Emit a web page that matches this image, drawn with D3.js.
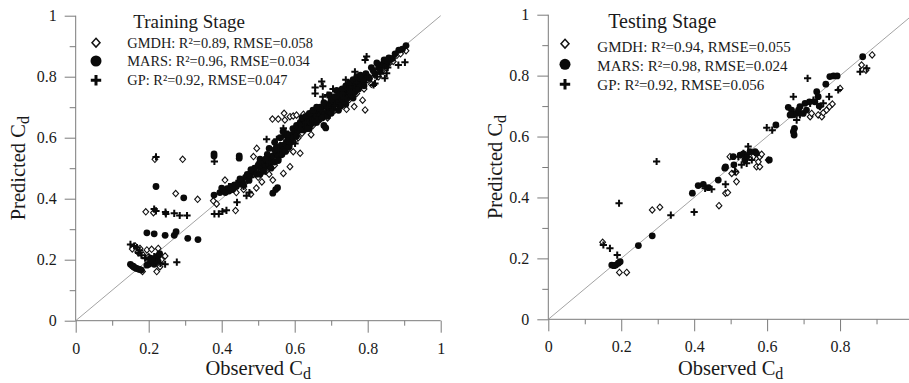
<!DOCTYPE html>
<html><head><meta charset="utf-8">
<script src="https://cdn.jsdelivr.net/npm/d3@7"></script>
<style>
body{margin:0;background:#fff}
text{font-family:"Liberation Serif","Times New Roman",serif;fill:#1a1a1a}
</style>
</head><body><svg id="chart" width="909" height="383"></svg>
<script>
// ---------- DATA ----------
const trainGMDH = [
[0.163,0.245],[0.176,0.237],[0.195,0.232],[0.208,0.234],[0.226,0.237],[0.245,0.212],[0.222,0.161],[0.183,0.161],[0.231,0.177],[0.170,0.225],[0.185,0.215],[0.200,0.210],[0.235,0.200],[0.155,0.235],
[0.217,0.529],[0.293,0.529],[0.274,0.417],[0.334,0.398],[0.192,0.357],[0.213,0.354],[0.438,0.361],[0.377,0.393],[0.386,0.383],[0.409,0.461],
[0.539,0.661],[0.555,0.661],[0.571,0.680],[0.573,0.658],[0.587,0.669],[0.596,0.671],[0.605,0.674],[0.624,0.677],[0.496,0.565],[0.487,0.538],
[0.587,0.505],[0.569,0.483],[0.540,0.461],[0.596,0.554],[0.615,0.549],[0.793,0.691],[0.786,0.723],[0.763,0.702],[0.742,0.693],[0.905,0.885],
[0.420,0.430],[0.440,0.420],[0.460,0.430],[0.470,0.460],[0.480,0.415],[0.495,0.435],[0.500,0.470],[0.510,0.455],[0.520,0.490],[0.530,0.480],
[0.545,0.510],[0.555,0.530],[0.565,0.545],[0.580,0.560],[0.600,0.590],[0.610,0.600],[0.620,0.615],[0.630,0.640],[0.640,0.650],[0.650,0.640],
[0.660,0.665],[0.670,0.660],[0.680,0.690],[0.690,0.675],[0.700,0.700],[0.710,0.690],[0.720,0.720],[0.730,0.705],[0.740,0.740],[0.750,0.725],
[0.760,0.760],[0.770,0.745],[0.780,0.775],[0.790,0.760],[0.800,0.790],[0.810,0.775],[0.820,0.805],[0.830,0.800],[0.840,0.820],[0.850,0.830],
[0.860,0.845],[0.870,0.850],[0.880,0.870],[0.890,0.875],[0.560,0.575],[0.575,0.595],[0.645,0.610],[0.690,0.665]
];
const trainMARS = [
[0.150,0.185],[0.155,0.180],[0.160,0.175],[0.165,0.172],[0.170,0.170],[0.175,0.168],[0.180,0.166],[0.158,0.178],
[0.195,0.182],[0.200,0.185],[0.205,0.190],[0.210,0.195],[0.215,0.200],[0.220,0.205],[0.225,0.212],[0.230,0.220],[0.215,0.185],[0.225,0.195],[0.205,0.205],
[0.195,0.288],[0.215,0.285],[0.245,0.280],[0.270,0.280],[0.275,0.292],[0.307,0.270],[0.335,0.266],[0.220,0.440],[0.296,0.403],[0.379,0.412],
[0.379,0.547],[0.379,0.540],[0.448,0.540],[0.448,0.533],[0.540,0.418],[0.548,0.430],[0.553,0.436],
[0.395,0.420],[0.405,0.428],[0.415,0.432],[0.425,0.440],[0.435,0.445],[0.445,0.448],[0.455,0.455],[0.465,0.470],[0.470,0.480],[0.478,0.475],
[0.485,0.490],[0.490,0.500],[0.500,0.510],[0.420,0.425],[0.440,0.440],
[0.400,0.435],[0.410,0.420],[0.430,0.430],[0.450,0.465],[0.460,0.445],[0.475,0.460],[0.480,0.495],[0.495,0.480],
[0.505,0.480],[0.510,0.500],[0.515,0.515],[0.520,0.505],[0.525,0.525],[0.530,0.510],[0.535,0.530],[0.540,0.540],[0.545,0.520],[0.550,0.550],
[0.555,0.540],[0.560,0.560],[0.565,0.575],[0.570,0.560],[0.575,0.580],[0.580,0.590],[0.585,0.600],[0.590,0.610],[0.595,0.630],[0.568,0.620],
[0.573,0.609],[0.560,0.600],[0.545,0.585],[0.530,0.565],
[0.505,0.530],[0.515,0.490],[0.525,0.545],[0.535,0.500],[0.545,0.560],[0.555,0.525],[0.565,0.545],[0.575,0.555],[0.585,0.570],[0.590,0.585],
[0.595,0.600],[0.580,0.610],[0.550,0.570],[0.520,0.530],
[0.600,0.620],[0.605,0.640],[0.610,0.630],[0.615,0.650],[0.620,0.640],[0.625,0.660],[0.630,0.645],[0.635,0.665],[0.640,0.655],[0.645,0.670],
[0.650,0.660],[0.655,0.680],[0.660,0.670],[0.665,0.690],[0.670,0.675],[0.675,0.700],[0.680,0.680],[0.685,0.705],[0.690,0.690],[0.695,0.710],
[0.680,0.640],[0.685,0.632],[0.660,0.650],[0.640,0.630],[0.625,0.625],
[0.605,0.605],[0.615,0.625],[0.620,0.665],[0.630,0.670],[0.640,0.680],[0.650,0.690],[0.655,0.650],[0.665,0.660],[0.670,0.700],[0.675,0.665],
[0.680,0.715],[0.690,0.670],[0.695,0.685],[0.660,0.700],[0.645,0.645],[0.635,0.630],
[0.700,0.700],[0.705,0.720],[0.710,0.710],[0.715,0.730],[0.720,0.715],[0.725,0.740],[0.730,0.725],[0.735,0.750],[0.740,0.735],[0.745,0.760],
[0.750,0.745],[0.755,0.770],[0.760,0.755],[0.765,0.780],[0.770,0.765],[0.775,0.790],[0.780,0.775],[0.785,0.800],[0.790,0.785],[0.720,0.690],
[0.740,0.710],[0.760,0.730],[0.700,0.680],[0.715,0.755],[0.695,0.740],
[0.700,0.725],[0.705,0.695],[0.710,0.735],[0.720,0.750],[0.725,0.705],[0.730,0.760],[0.735,0.720],[0.740,0.770],[0.745,0.730],[0.750,0.780],
[0.755,0.740],[0.760,0.790],[0.765,0.750],[0.770,0.800],[0.775,0.760],[0.780,0.805],[0.790,0.770],[0.795,0.810],[0.750,0.760],[0.730,0.740],
[0.800,0.800],[0.810,0.830],[0.820,0.810],[0.830,0.830],[0.840,0.840],[0.850,0.835],[0.858,0.862],[0.868,0.860],[0.885,0.887],[0.905,0.902],[0.815,0.820],
[0.805,0.795],[0.825,0.845],[0.835,0.820],[0.845,0.855],[0.855,0.850],[0.875,0.875],[0.895,0.890]
];
const trainGP = [
[0.150,0.250],[0.160,0.245],[0.168,0.240],[0.172,0.222],[0.180,0.215],[0.190,0.205],[0.200,0.200],[0.210,0.196],[0.222,0.192],[0.232,0.188],
[0.245,0.185],[0.277,0.192],[0.175,0.230],[0.215,0.210],
[0.215,0.366],[0.220,0.360],[0.246,0.356],[0.247,0.350],[0.270,0.352],[0.285,0.345],[0.305,0.345],[0.220,0.537],[0.380,0.522],[0.380,0.350],
[0.392,0.350],[0.402,0.358],[0.413,0.362],[0.442,0.388],[0.468,0.410],[0.476,0.420],
[0.420,0.440],[0.440,0.450],[0.460,0.440],[0.480,0.470],[0.500,0.490],[0.505,0.520],[0.523,0.595],[0.530,0.520],[0.551,0.595],[0.555,0.560],
[0.569,0.631],[0.575,0.620],[0.580,0.590],[0.601,0.581],[0.610,0.620],[0.630,0.650],[0.650,0.655],[0.656,0.765],[0.656,0.745],[0.677,0.769],
[0.677,0.734],[0.670,0.690],[0.690,0.700],[0.700,0.720],[0.710,0.705],[0.720,0.740],[0.735,0.730],[0.745,0.760],[0.755,0.750],[0.765,0.816],
[0.770,0.780],[0.780,0.770],[0.793,0.855],[0.797,0.866],[0.800,0.800],[0.816,0.773],[0.825,0.800],[0.835,0.810],[0.847,0.795],[0.855,0.830],
[0.884,0.838],[0.902,0.847],[0.860,0.850],[0.740,0.790],[0.705,0.760],[0.690,0.740],[0.674,0.784],[0.852,0.811],[0.820,0.778]
];
const testGMDH = [
[0.149,0.253],[0.195,0.154],[0.215,0.154],[0.285,0.359],[0.306,0.368],[0.468,0.373],[0.486,0.414],[0.492,0.416],[0.498,0.534],
[0.503,0.479],[0.515,0.483],[0.516,0.452],[0.571,0.501],[0.580,0.501],[0.576,0.517],[0.580,0.534],[0.585,0.542],[0.562,0.534],[0.603,0.523],
[0.718,0.665],[0.722,0.676],[0.740,0.671],[0.750,0.665],[0.754,0.678],[0.763,0.687],[0.771,0.698],[0.779,0.707],[0.800,0.758],
[0.859,0.835],[0.888,0.868],[0.871,0.818]
];
const testMARS = [
[0.174,0.178],[0.180,0.176],[0.185,0.178],[0.192,0.184],[0.197,0.189],[0.247,0.242],[0.285,0.274],[0.395,0.414],[0.411,0.439],[0.425,0.443],
[0.439,0.432],[0.466,0.457],[0.484,0.496],[0.486,0.500],[0.507,0.534],[0.509,0.507],[0.526,0.539],[0.535,0.543],[0.544,0.534],[0.553,0.550],
[0.567,0.550],[0.571,0.545],[0.539,0.523],[0.606,0.523],[0.624,0.638],
[0.658,0.696],[0.667,0.687],[0.672,0.671],[0.672,0.616],[0.674,0.605],[0.675,0.627],[0.681,0.676],[0.686,0.687],[0.690,0.698],[0.699,0.676],
[0.708,0.687],[0.704,0.709],[0.716,0.714],[0.663,0.671],[0.731,0.714],[0.736,0.747],[0.740,0.731],[0.743,0.700],
[0.761,0.772],[0.772,0.797],[0.782,0.799],[0.792,0.799],[0.862,0.862]
];
const testGP = [
[0.151,0.244],[0.169,0.233],[0.189,0.211],[0.194,0.381],[0.297,0.518],[0.336,0.342],[0.400,0.352],[0.430,0.430],[0.448,0.427],[0.486,0.443],
[0.530,0.507],[0.544,0.512],[0.548,0.567],[0.535,0.545],[0.558,0.523],[0.512,0.485],[0.521,0.534],[0.599,0.629],[0.614,0.621],
[0.672,0.731],[0.681,0.654],[0.690,0.671],[0.718,0.709],[0.727,0.720],[0.745,0.698],[0.754,0.709],[0.770,0.731],[0.711,0.791],[0.795,0.753],
[0.855,0.813],[0.873,0.824]
];
const trainLegend = ["GMDH: R\u00B2=0.89, RMSE=0.058","MARS: R\u00B2=0.96, RMSE=0.034","GP: R\u00B2=0.92, RMSE=0.047"];
const testLegend  = ["GMDH: R\u00B2=0.94, RMSE=0.055","MARS: R\u00B2=0.98, RMSE=0.024","GP: R\u00B2=0.92, RMSE=0.056"];
const majorTicks = [0,0.2,0.4,0.6,0.8,1];
const majorLabels = ["0","0.2","0.4","0.6","0.8","1"];
const minorTicks = [0.1,0.3,0.5,0.7,0.9];

// ---------- LAYOUT ----------
const svg = d3.select("#chart");
svg.append("rect").attr("width",909).attr("height",383).attr("fill","#fff");
const AX = "#7a7a7a";
const SERIF = '"Liberation Serif","Times New Roman",serif';

const panels = [
 {title:"Training Stage", legend:trainLegend, data:[trainGMDH,trainMARS,trainGP],
  x0:75.7,x1:440.7,y0:320.7,y1:15.7, xMaj:majorTicks, xMin:minorTicks,
  leg:{sx:96, sy:[42.7,61,80.3], tx:127.3, ty:[47.5,66,85], titleX:133.3, titleY:28.3, titleSize:19, size:14.4},
  yTitleX:25, xTitleY:375},
 {title:"Testing Stage", legend:testLegend, data:[testGMDH,testMARS,testGP],
  x0:548.3,x1:913,y0:319.3,y1:14.7, xMaj:majorTicks.slice(0,5), xMin:minorTicks,
  leg:{sx:565, sy:[43.7,64.3,84.3], tx:597.3, ty:[51.5,70.7,90], titleX:608.3, titleY:28.3, titleSize:20, size:15},
  yTitleX:502, xTitleY:375}
];

const sym = {
 diamond:(s)=>`M0,${-s*1.1}L${s},0L0,${s*1.1}L${-s},0Z`,
 plus:(s)=>`M${-s},0H${s}M0,${-s}V${s}`
};

panels.forEach(p=>{
  const x = d3.scaleLinear().domain([0,1]).range([p.x0,p.x1]);
  const y = d3.scaleLinear().domain([0,1]).range([p.y0,p.y1]);
  const g = svg.append("g");
  const lab = v => majorLabels[majorTicks.indexOf(v)];

  const xMin = g.append("g").attr("transform",`translate(0,${p.y0})`)
     .call(d3.axisBottom(x).tickValues(p.xMin).tickSize(5).tickFormat(""));
  const xMaj = g.append("g").attr("transform",`translate(0,${p.y0})`)
     .call(d3.axisBottom(x).tickValues(p.xMaj).tickSize(12).tickPadding(9.5).tickFormat(lab));
  const yMin = g.append("g").attr("transform",`translate(${p.x0},0)`)
     .call(d3.axisLeft(y).tickValues(minorTicks).tickSize(6).tickFormat(""));
  const yMaj = g.append("g").attr("transform",`translate(${p.x0},0)`)
     .call(d3.axisLeft(y).tickValues(majorTicks).tickSize(11).tickPadding(8).tickFormat(lab));
  [xMin,xMaj,yMin,yMaj].forEach(a=>{
    a.select(".domain").remove();
    a.selectAll("line").attr("stroke",AX).attr("stroke-width",1);
    a.attr("font-family",SERIF).attr("font-size",16);
    a.selectAll("text").attr("fill","#1a1a1a").style("font-family",SERIF);
  });
  g.append("line").attr("x1",x(0)).attr("x2",x(1)).attr("y1",p.y0).attr("y2",p.y0).attr("stroke",AX);
  g.append("line").attr("x1",p.x0).attr("x2",p.x0).attr("y1",y(0)).attr("y2",y(1)).attr("stroke",AX);

  g.append("line").attr("x1",x(0)).attr("y1",y(0)).attr("x2",x(1)).attr("y2",y(1))
   .attr("stroke","#8c8c8c").attr("stroke-width",0.8);

  const [gm,ma,gp] = p.data;
  g.append("g").selectAll("path").data(gm).join("path")
   .attr("transform",d=>`translate(${x(d[0])},${y(d[1])})`).attr("d",sym.diamond(2.9))
   .attr("fill","#fff").attr("stroke","#111").attr("stroke-width",1.1);
  g.append("g").selectAll("circle").data(ma).join("circle")
   .attr("cx",d=>x(d[0])).attr("cy",d=>y(d[1])).attr("r",3.4).attr("fill","#0a0a0a");
  g.append("g").selectAll("path").data(gp).join("path")
   .attr("transform",d=>`translate(${x(d[0])},${y(d[1])})`).attr("d",sym.plus(3.6))
   .attr("fill","none").attr("stroke","#0a0a0a").attr("stroke-width",2);

  const L = p.leg;
  g.append("text").attr("x",L.titleX).attr("y",L.titleY).attr("font-size",L.titleSize).text(p.title);
  g.append("path").attr("transform",`translate(${L.sx},${L.sy[0]})`).attr("d",sym.diamond(4))
   .attr("fill","#fff").attr("stroke","#111").attr("stroke-width",1.5);
  g.append("circle").attr("cx",L.sx).attr("cy",L.sy[1]).attr("r",5.5).attr("fill","#0a0a0a");
  g.append("path").attr("transform",`translate(${L.sx},${L.sy[2]})`).attr("d",sym.plus(5.2))
   .attr("fill","none").attr("stroke","#0a0a0a").attr("stroke-width",3);
  p.legend.forEach((t,i)=>{
    g.append("text").attr("x",L.tx).attr("y",L.ty[i]).attr("font-size",L.size).text(t);
  });

  const xt = g.append("text").attr("x",(x(0)+x(1))/2).attr("y",p.xTitleY)
     .attr("text-anchor","middle").attr("font-size",20.5);
  xt.append("tspan").text("Observed C");
  xt.append("tspan").attr("font-size",16).attr("dy",4).text("d");
  const yt = g.append("text").attr("transform",`translate(${p.yTitleX},${(y(0)+y(1))/2}) rotate(-90)`)
     .attr("text-anchor","middle").attr("font-size",20.5);
  yt.append("tspan").text("Predicted C");
  yt.append("tspan").attr("font-size",16).attr("dy",4).text("d");
});
</script>
</body></html>
